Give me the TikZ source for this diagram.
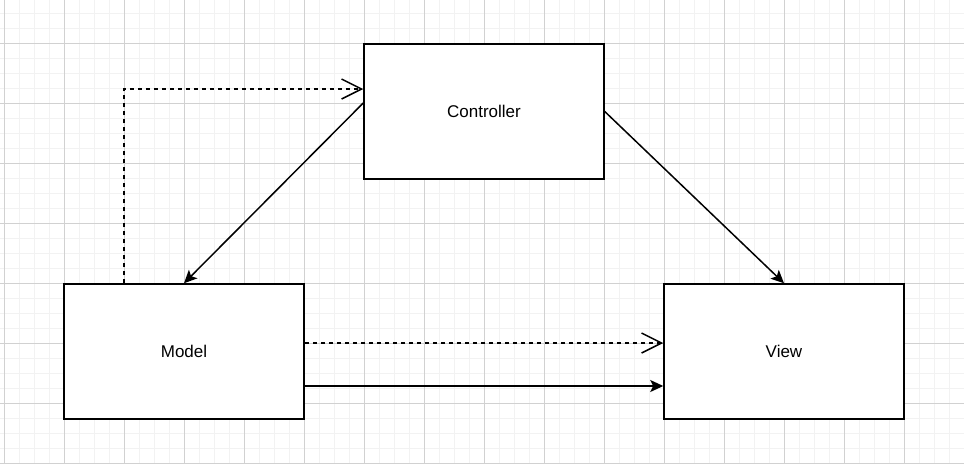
\documentclass[tikz,border=0pt]{standalone}
\usepackage{fontspec}
\setmainfont{Liberation Sans}
\usetikzlibrary{arrows.meta}

\begin{document}
\begin{tikzpicture}[x=1pt, y=-1pt,
        minorgrid/.style={draw=black!5, line width=1pt},
        majorgrid/.style={draw=black!18, line width=1pt},
        mvcbox/.style={rectangle, draw=black, line width=1.5pt, fill=white, minimum width=240pt, minimum height=135pt, text centered, font=\fontsize{17}{20}\selectfont},
        solidarrow/.style={line width=1.5pt, -{Stealth[length=13pt, width=12pt, inset=3pt]}},
        dashedarrow/.style={line width=1.3pt, dash pattern=on 4pt off 4pt, -{Straight Barb[length=20pt, width=20pt, line width=1.5pt]}}]
            \useasboundingbox (0, 0) rectangle (964, 464);
            \fill[white] (0, 0) rectangle (964, 464);
            \foreach \gx in {4,19,...,964} \draw[minorgrid] (\gx, 0) -- (\gx, 464);
            \foreach \gy in {13,28,...,464} \draw[minorgrid] (0, \gy) -- (964, \gy);
            \foreach \gx in {4,64,...,964} \draw[majorgrid] (\gx, 0) -- (\gx, 464);
            \foreach \gy in {43,103,...,464} \draw[majorgrid] (0, \gy) -- (964, \gy);
            \node [mvcbox] (ctrl) at (484, 111.5) {Controller};
            \node [mvcbox] (model) at (184, 351.5) {Model};
            \node [mvcbox] (view) at (784, 351.5) {View};
            \draw[solidarrow] ([yshift=8.5pt]ctrl.west) -- (model.north);
            \draw[solidarrow] (ctrl.east) -- (view.north);
            \draw[dashedarrow] ([xshift=-60pt]model.north) |- ([yshift=22.5pt]ctrl.west);
            \draw[dashedarrow] ([yshift=8.5pt]model.east) -- ([yshift=8.5pt]view.west);
            \draw[solidarrow] ([yshift=-34.5pt]model.east) -- ([yshift=-34.5pt]view.west);
        \end{tikzpicture}
\end{document}
